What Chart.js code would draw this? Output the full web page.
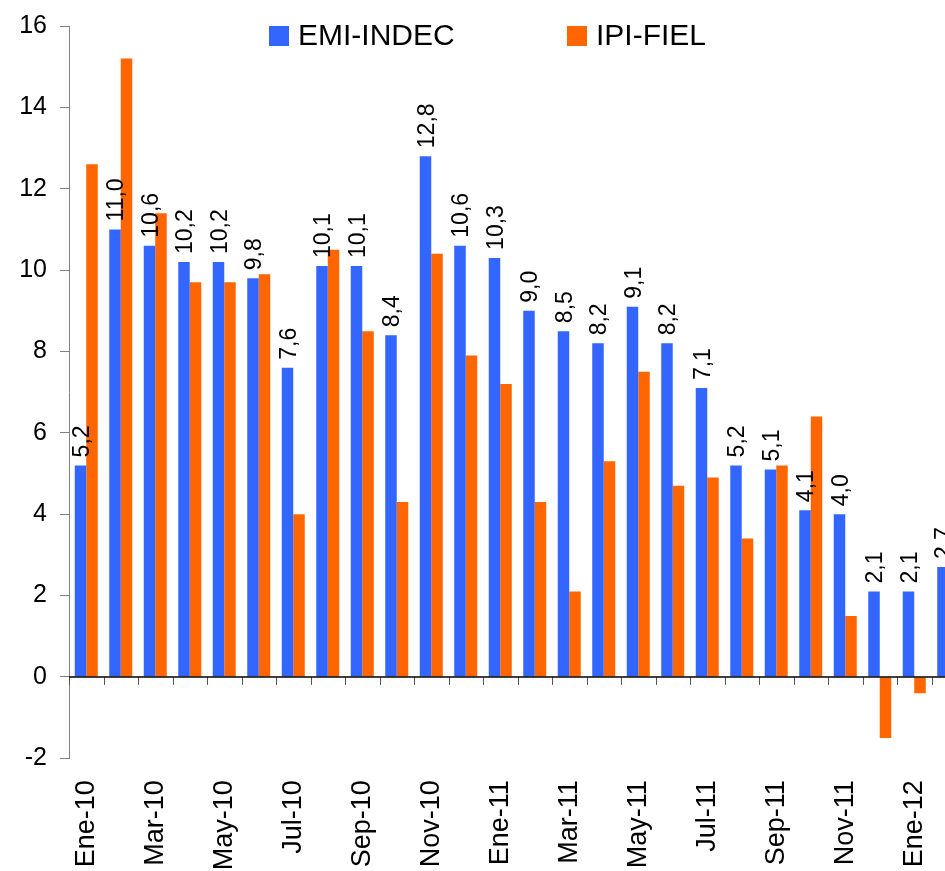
<!DOCTYPE html>
<html>
<head>
<meta charset="utf-8">
<script src="https://cdn.jsdelivr.net/npm/chart.js@4.4.1/dist/chart.umd.min.js"></script>
<style>
  html, body { margin: 0; padding: 0; overflow: hidden; background: #fff; }
  #wrap { position: absolute; left: 0; top: 0; width: 980px; height: 871px; }
</style>
</head>
<body>
<div id="wrap"><canvas id="chart" width="980" height="871"></canvas></div>
<script>
// datos
const months = [
  "Ene-10", "Feb-10", "Mar-10", "Abr-10", "May-10", "Jun-10", "Jul-10", "Ago-10",
  "Sep-10", "Oct-10", "Nov-10", "Dic-10", "Ene-11", "Feb-11", "Mar-11", "Abr-11",
  "May-11", "Jun-11", "Jul-11", "Ago-11", "Sep-11", "Oct-11", "Nov-11", "Dic-11",
  "Ene-12", "Feb-12"
];
const emiIndec = [
  5.2, 11.0, 10.6, 10.2, 10.2, 9.8, 7.6, 10.1, 10.1, 8.4, 12.8, 10.6, 10.3,
  9.0, 8.5, 8.2, 9.1, 8.2, 7.1, 5.2, 5.1, 4.1, 4.0, 2.1, 2.1, 2.7
];
const ipiFiel = [
  12.6, 15.2, 11.4, 9.7, 9.7, 9.9, 4.0, 10.5, 8.5, 4.3, 10.4, 7.9, 7.2,
  4.3, 2.1, 5.3, 7.5, 4.7, 4.9, 3.4, 5.2, 6.4, 1.5, -1.5, -0.4, null
];
const seriesNames = ["EMI-INDEC", "IPI-FIEL"];
const seriesColors = ["#3366FF", "#FF6600"];
const yMin = -2, yMax = 16, yStep = 2;

const FONT = "'Liberation Sans', Arial, sans-serif";

// eje en cero + marcas de categoria
const zeroAxisPlugin = {
  id: "zeroAxis",
  afterDatasetsDraw(chart) {
    const { ctx, chartArea, scales } = chart;
    const y0 = scales.y.getPixelForValue(0);
    const step = scales.x.width / months.length;
    ctx.save();
    ctx.strokeStyle = "#555";
    ctx.lineWidth = 1;
    for (let i = 0; i <= months.length; i++) {
      const x = Math.round(scales.x.left + i * step) + 0.5;
      ctx.beginPath();
      ctx.moveTo(x, y0);
      ctx.lineTo(x, y0 + 8);
      ctx.stroke();
    }
    ctx.strokeStyle = "#000";
    ctx.lineWidth = 1.5;
    ctx.beginPath();
    ctx.moveTo(chartArea.left, y0);
    ctx.lineTo(chartArea.right, y0);
    ctx.stroke();
    ctx.restore();
  },
};

// etiquetas verticales sobre EMI-INDEC
const barLabelPlugin = {
  id: "barLabels",
  afterDatasetsDraw(chart) {
    const { ctx } = chart;
    const meta = chart.getDatasetMeta(0);
    const size = 23;
    ctx.save();
    ctx.font = size + "px " + FONT;
    ctx.fillStyle = "#000";
    ctx.textAlign = "left";
    ctx.textBaseline = "alphabetic";
    meta.data.forEach((bar, i) => {
      const v = emiIndec[i];
      if (v == null) return;
      const txt = v.toFixed(1).replace(".", ",");
      ctx.save();
      ctx.translate(bar.x + size * 0.36, Math.min(bar.y, bar.base) - 8);
      ctx.rotate(-Math.PI / 2);
      ctx.fillText(txt, 0, 0);
      ctx.restore();
    });
    ctx.restore();
  },
};

// leyenda dentro del grafico
const legendPlugin = {
  id: "topLegend",
  afterDraw(chart) {
    const { ctx } = chart;
    const items = [
      { x: 269, text: seriesNames[0], color: seriesColors[0] },
      { x: 567, text: seriesNames[1], color: seriesColors[1] },
    ];
    ctx.save();
    ctx.font = "30px " + FONT;
    ctx.textBaseline = "middle";
    ctx.textAlign = "left";
    items.forEach((it) => {
      ctx.fillStyle = it.color;
      ctx.fillRect(it.x, 26, 20, 20);
      ctx.fillStyle = "#000";
      ctx.fillText(it.text, it.x + 29, 37);
    });
    ctx.restore();
  },
};

const ctx = document.getElementById("chart").getContext("2d");
new Chart(ctx, {
  type: "bar",
  data: {
    labels: months,
    datasets: [
      { label: seriesNames[0], data: emiIndec, backgroundColor: seriesColors[0] },
      { label: seriesNames[1], data: ipiFiel, backgroundColor: seriesColors[1] },
    ],
  },
  options: {
    responsive: false,
    animation: false,
    devicePixelRatio: 1,
    layout: { padding: { top: 26, right: 14, left: 0, bottom: 0 } },
    datasets: {
      bar: { categoryPercentage: 0.667, barPercentage: 1.0, borderWidth: 0 },
    },
    plugins: { legend: { display: false }, tooltip: { enabled: false } },
    scales: {
      x: {
        grid: { display: false, drawTicks: false },
        border: { display: false },
        ticks: {
          autoSkip: false,
          minRotation: 90,
          maxRotation: 90,
          padding: 22,
          color: "#000",
          font: { family: FONT, size: 27 },
          callback: (val, i) => (i % 2 === 0 ? months[i] : ""),
        },
        afterFit(scale) {
          scale.height = 112.7;
          scale.paddingLeft = 0;
          scale.paddingRight = 0;
        },
      },
      y: {
        min: yMin,
        max: yMax,
        ticks: {
          stepSize: yStep,
          padding: 13,
          color: "#000",
          font: { family: FONT, size: 25 },
        },
        grid: { drawOnChartArea: false, drawTicks: true, tickLength: 9, color: "#808080" },
        border: { display: true, color: "#808080", width: 1 },
        afterFit(scale) {
          scale.width = 69;
          scale.paddingTop = 0;
          scale.paddingBottom = 0;
        },
      },
    },
  },
  plugins: [zeroAxisPlugin, barLabelPlugin, legendPlugin],
});
</script>
</body>
</html>
